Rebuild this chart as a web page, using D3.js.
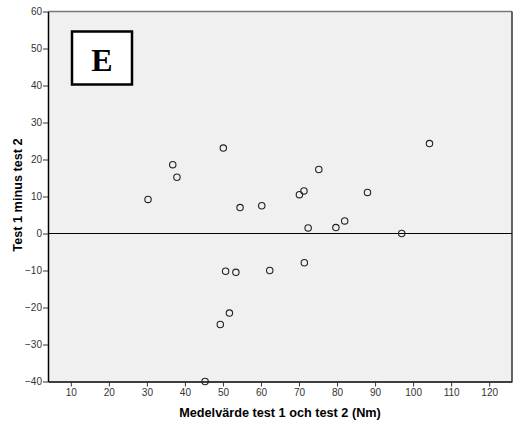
<!DOCTYPE html>
<html>
<head>
<meta charset="utf-8">
<script src="https://cdn.jsdelivr.net/npm/d3@7"></script>
<style>
  html, body { margin: 0; padding: 0; background: #fff; }
  svg { display: block; font-family: 'Liberation Sans', Arial, sans-serif; }
  .tick text { font-size: 10px; fill: #333; }
  .axis-label { font-size: 12.7px; font-weight: bold; fill: #000; }
</style>
</head>
<body>
<div id="chart"></div>
<script>
  'use strict';

  // Mean of test 1 and test 2 (Nm), and the difference test 1 - test 2.
  var meanValues = [30.3, 36.8, 37.9, 50.1, 54.5, 60.2, 70.1, 71.3, 75.2, 72.4, 79.7,
    82.0, 88.0, 97.0, 104.3, 50.7, 53.4, 62.3, 71.4, 49.3, 51.7, 45.3];
  var diffValues = [9.2, 18.6, 15.2, 23.1, 7.0, 7.5, 10.5, 11.5, 17.3, 1.5, 1.6,
    3.4, 11.1, 0.0, 24.3, -10.2, -10.5, -10.0, -7.9, -24.6, -21.5, -40.0];
  var xTicks = [10, 20, 30, 40, 50, 60, 70, 80, 90, 100, 110, 120];
  var yTicks = [60, 50, 40, 30, 20, 10, 0, -10, -20, -30, -40];
  var panelLabel = 'E';

  (function() {
    var width = 518;
    var height = 422;
    var plotLeft = 48, plotRight = 512, plotTop = 11.5, plotBottom = 381.5;

    var points = meanValues.map(function(m, i) { return { x: m, y: diffValues[i] }; });

    var xScale = d3.scaleLinear().domain([4, 126]).range([plotLeft, plotRight]);
    var yScale = d3.scaleLinear().domain([-40, 60]).range([plotBottom, plotTop]);

    var svg = d3.select('#chart')
      .append('svg')
      .attr('width', width)
      .attr('height', height);

    // Plot background.
    svg.append('rect')
      .attr('x', plotLeft)
      .attr('y', plotTop)
      .attr('width', plotRight - plotLeft)
      .attr('height', plotBottom - plotTop)
      .attr('fill', '#f0f0f0');

    // Top and right frame lines.
    svg.append('line')
      .attr('x1', plotLeft).attr('x2', plotRight)
      .attr('y1', plotTop).attr('y2', plotTop)
      .attr('stroke', '#777').attr('stroke-width', 1.5);
    svg.append('line')
      .attr('x1', plotRight).attr('x2', plotRight)
      .attr('y1', plotTop).attr('y2', plotBottom)
      .attr('stroke', '#333').attr('stroke-width', 1.5);

    // Reference line at zero difference.
    svg.append('line')
      .attr('x1', plotLeft).attr('x2', plotRight)
      .attr('y1', yScale(0)).attr('y2', yScale(0))
      .attr('stroke', '#000').attr('stroke-width', 1);

    var xAxis = d3.axisBottom(xScale).tickValues(xTicks).tickSize(5).tickSizeOuter(0);
    var yAxis = d3.axisLeft(yScale).tickValues(yTicks).tickSize(5).tickSizeOuter(0);

    var gx = svg.append('g')
      .attr('class', 'x axis')
      .attr('transform', 'translate(0,' + plotBottom + ')')
      .call(xAxis);
    gx.select('.domain').attr('stroke', '#000').attr('stroke-width', 1.5);
    gx.selectAll('.tick line').attr('stroke', '#333');
    gx.selectAll('.tick text').attr('dy', '0.95em').attr('y', 5);

    var gy = svg.append('g')
      .attr('class', 'y axis')
      .attr('transform', 'translate(' + plotLeft + ',0)')
      .call(yAxis);
    gy.select('.domain').attr('stroke', '#000').attr('stroke-width', 1.5);
    gy.selectAll('.tick line').attr('stroke', '#333');
    gy.selectAll('.tick text').attr('x', -6);

    // Axis titles.
    svg.append('text')
      .attr('class', 'axis-label')
      .attr('text-anchor', 'middle')
      .attr('x', (plotLeft + plotRight) / 2)
      .attr('y', 417)
      .text('Medelvärde test 1 och test 2 (Nm)');

    svg.append('text')
      .attr('class', 'axis-label')
      .attr('text-anchor', 'middle')
      .attr('transform', 'translate(21.5,195) rotate(-90)')
      .text('Test 1 minus test 2');

    // Data points.
    svg.append('g')
      .selectAll('circle')
      .data(points)
      .enter().append('circle')
      .attr('cx', function(d) { return xScale(d.x); })
      .attr('cy', function(d) { return yScale(d.y); })
      .attr('r', 3.2)
      .attr('fill', 'none')
      .attr('stroke', '#222')
      .attr('stroke-width', 1.1);

    // Panel label box.
    svg.append('rect')
      .attr('x', 72)
      .attr('y', 31.5)
      .attr('width', 60)
      .attr('height', 53)
      .attr('fill', '#fff')
      .attr('stroke', '#000')
      .attr('stroke-width', 2.5);

    svg.append('text')
      .attr('x', 102)
      .attr('y', 70.5)
      .attr('text-anchor', 'middle')
      .style('font-family', "'Liberation Serif', 'Times New Roman', serif")
      .style('font-weight', 'bold')
      .style('font-size', '32px')
      .text(panelLabel);
  })();
</script>
</body>
</html>
